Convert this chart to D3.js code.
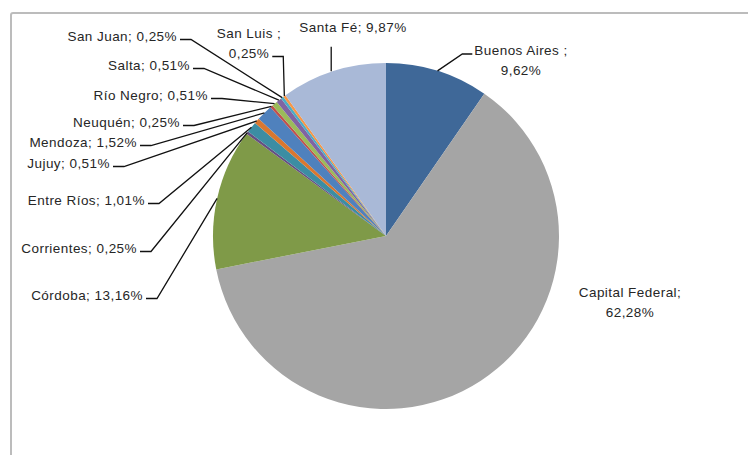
<!DOCTYPE html>
<html>
<head>
<meta charset="utf-8">
<script src="https://cdn.jsdelivr.net/npm/d3@7"></script>
<style>
  body { margin: 0; background: #fff; }
  svg text { font-family: "Liberation Sans", Arial, sans-serif; font-size: 13.5px; fill: #262626; letter-spacing: 0.45px; }
</style>
</head>
<body>
<div id="chart"></div>
<script>
// provincias y porcentajes (orden del gráfico, desde las 12 en sentido horario)
const provinces = ['Buenos Aires', 'Capital Federal', 'Córdoba', 'Corrientes', 'Entre Ríos', 'Jujuy',
  'Mendoza', 'Neuquén', 'Río Negro', 'Salta', 'San Juan', 'San Luis', 'Santa Fé']
const shares = [9.62, 62.28, 13.16, 0.25, 1.01, 0.51, 1.52, 0.25, 0.51, 0.51, 0.25, 0.25, 9.87]
const sliceColors = ['#3f6898', '#a5a5a5', '#7f9a48', '#664f82', '#3c8da3', '#d9772f',
  '#4f81bd', '#c0504d', '#9bbb59', '#8064a2', '#4bacc6', '#f79646', '#a9b9d7']

// posición de cada etiqueta (centro de la primera línea) y tipo de guía
const labelLayout = [
  { x: 521, y: 50, anchor: 'middle', split: true, leader: 'left' },
  { x: 630, y: 292, anchor: 'middle', split: true, leader: 'none' },
  { x: 143, y: 295, anchor: 'end', leader: 'right' },
  { x: 137, y: 248, anchor: 'end', leader: 'right' },
  { x: 145, y: 200, anchor: 'end', leader: 'right' },
  { x: 110, y: 163, anchor: 'end', leader: 'right' },
  { x: 137, y: 142, anchor: 'end', leader: 'right' },
  { x: 180, y: 122, anchor: 'end', leader: 'right' },
  { x: 208, y: 95, anchor: 'end', leader: 'right' },
  { x: 190, y: 65, anchor: 'end', leader: 'right' },
  { x: 177, y: 36, anchor: 'end', leader: 'right' },
  { x: 249, y: 33, anchor: 'middle', split: true, leader: 'right' },
  { x: 353, y: 27, anchor: 'middle', leader: 'down' }
]

const width = 748
const height = 455
const cx = 386
const cy = 236
const radius = 173

const fmt = v => d3.format('.2f')(v).replace('.', ',') + '%'

const svg = d3.select('#chart').append('svg')
  .attr('width', width)
  .attr('height', height)

// marco del gráfico (cortado por la ventana)
svg.append('rect')
  .attr('x', 11)
  .attr('y', 13)
  .attr('width', 800)
  .attr('height', 500)
  .attr('rx', 2)
  .attr('fill', 'none')
  .attr('stroke', '#bcbcbc')
  .attr('stroke-width', 2)

const data = provinces.map((p, i) => ({ name: p, value: shares[i], color: sliceColors[i], layout: labelLayout[i] }))

const pie = d3.pie().sort(null).value(d => d.value)
const arcs = pie(data)
const arc = d3.arc().innerRadius(0).outerRadius(radius)

const g = svg.append('g').attr('transform', `translate(${cx},${cy})`)

g.selectAll('path')
  .data(arcs)
  .enter()
  .append('path')
  .attr('d', arc)
  .attr('fill', d => d.data.color)

// punto del borde en el ángulo medio de cada porción
const edgePoint = d => {
  const a = (d.startAngle + d.endAngle) / 2
  return [cx + radius * Math.sin(a), cy - radius * Math.cos(a)]
}

const labels = svg.append('g').attr('class', 'labels')
const leaders = svg.append('g').attr('class', 'leaders')

arcs.forEach(d => {
  const L = d.data.layout
  const lines = L.split
    ? [d.data.name + (d.data.name === 'Capital Federal' ? ';' : ' ;'), fmt(d.data.value)]
    : [d.data.name + '; ' + fmt(d.data.value)]

  const nodes = lines.map((t, k) => labels.append('text')
    .attr('x', L.x)
    .attr('y', L.y + k * 20)
    .attr('dy', '0.35em')
    .attr('text-anchor', L.anchor)
    .text(t))

  const [px, py] = edgePoint(d)
  let pts = null
  if (L.leader === 'right') {
    const last = nodes[nodes.length - 1].node().getBBox()
    const sy = L.y + (nodes.length - 1) * 20 + 3.5
    const x0 = last.x + last.width + 3
    pts = [[x0, sy], [x0 + 11, sy], [px, py]]
  } else if (L.leader === 'left') {
    const first = nodes[0].node().getBBox()
    const sy = L.y + 4
    const x0 = first.x - 2
    pts = [[x0, sy], [x0 - 10, sy], [px, py]]
  } else if (L.leader === 'down') {
    const first = nodes[0].node().getBBox()
    pts = [[px - 2, first.y + first.height + 12], [px - 2, py]]
  }
  if (pts) {
    leaders.append('path')
      .attr('d', d3.line()(pts))
      .attr('fill', 'none')
      .attr('stroke', '#111')
      .attr('stroke-width', 1.3)
  }
})
</script>
</body>
</html>
